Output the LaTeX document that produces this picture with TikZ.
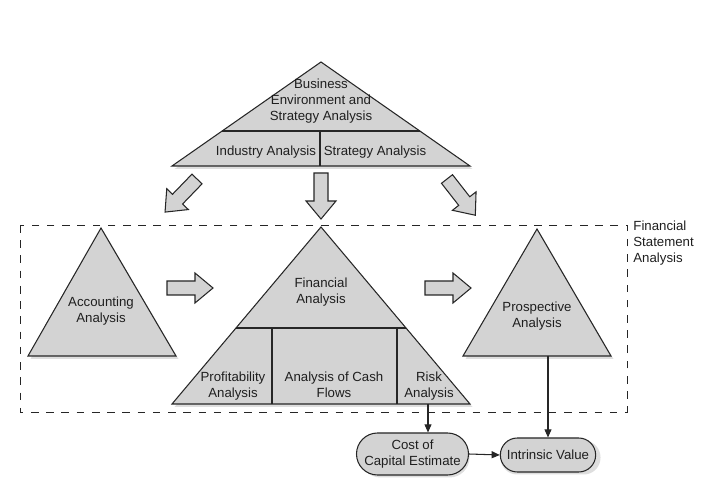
\documentclass[tikz,border=0pt]{standalone}
\usepackage{fontspec}
\setmainfont{Liberation Sans}
\usetikzlibrary{arrows.meta,shapes.misc}
\definecolor{boxgray}{HTML}{D3D3D3}
\definecolor{linecol}{HTML}{262626}
\begin{document}
\begin{tikzpicture}[x=0.03cm,y=-0.03cm,
  every node/.style={font=\fontsize{11.3}{13.6}\selectfont, align=center, text=black!88, inner sep=1pt},
  tri/.style={fill=boxgray, draw=linecol, line width=0.9pt, line join=miter},
  shade/.style={fill=black!13},
  blockarrow/.style={fill=boxgray, draw=linecol, line width=0.9pt, line join=miter},
  conn/.style={draw=linecol, line width=0.9pt, -{Triangle[length=7pt,width=6pt]}},
  pill/.style={rounded rectangle, fill=boxgray, draw=linecol, line width=0.9pt, inner sep=2pt},
  barrow/.pic={
    \draw[blockarrow] (0,-7) -- (28,-7) -- (28,-15) -- (46,0) -- (28,15) -- (28,7) -- (0,7) -- cycle;
  }
]
\useasboundingbox (0,0) rectangle (722,489);

% dashed frame
\draw[linecol, line width=0.8pt, dash pattern=on 6.5pt off 6.5pt] (20,225) rectangle (627,412);

% top triangle
\fill[shade] (323.5,65) -- (174.5,169) -- (472.5,169) -- cycle;
\draw[tri] (321,62) -- (172,166) -- (470,166) -- cycle;
\draw[linecol, line width=0.9pt] (222,131) -- (420,131) (320,131) -- (320,166);

% accounting triangle
\fill[shade] (103.5,231) -- (30.5,359) -- (178.5,359) -- cycle;
\draw[tri] (101,228) -- (28,356) -- (176,356) -- cycle;

% financial triangle
\fill[shade] (323.5,230) -- (174.5,407) -- (472.5,407) -- cycle;
\draw[tri] (321,227) -- (172,404) -- (470,404) -- cycle;
\draw[linecol, line width=0.9pt] (236,328) -- (406,328) (272,328) -- (272,404) (397,328) -- (397,404);

% prospective triangle
\fill[shade] (539.5,232) -- (465.5,359) -- (613.5,359) -- cycle;
\draw[tri] (537,229) -- (463,356) -- (611,356) -- cycle;

% block arrows
\path (197,179) pic[rotate=-134] {barrow};
\path (321,173) pic[rotate=-90] {barrow};
\path (447,179) pic[rotate=-52] {barrow};
\path (167,288) pic {barrow};
\path (425,288) pic {barrow};

% texts
\node (bea) at (321,101) {Business\\Environment and\\Strategy Analysis};
\node (ind) at (266,152) {Industry Analysis};
\node (stra) at (375,152) {Strategy Analysis};
\node (acc) at (101,311) {Accounting\\Analysis};
\node (fin) at (321,292) {Financial\\Analysis};
\node (prof) at (233,386) {Profitability\\Analysis};
\node (cash) at (334,385) {Analysis of Cash\\Flows};
\node (risk) at (429,386) {Risk\\Analysis};
\node (prosp) at (537,316) {Prospective\\Analysis};
\node[anchor=north west, align=left] (fsa) at (632,220) {Financial\\Statement\\Analysis};

% bottom pills
\fill[shade, rounded corners=0.6cm] (360.5,435.5) rectangle (469.5,477.5);
\node[pill, minimum width=3.27cm, minimum height=1.26cm] (cost) at (412.5,454) {Cost of\\Capital Estimate};
\fill[shade, rounded corners=0.5cm] (500.5,440.5) rectangle (600.5,474.5);
\node[pill, minimum width=3.0cm, minimum height=1.02cm] (intr) at (548,455) {Intrinsic Value};

\coordinate (riskbot) at (428,404);
\coordinate (prospbot) at (548,356);
\draw[conn] (riskbot) -- (riskbot |- cost.north);
\draw[conn] (prospbot) -- (prospbot |- intr.north);
\draw[conn] (cost.east) -- (intr.west);
\end{tikzpicture}
\end{document}
